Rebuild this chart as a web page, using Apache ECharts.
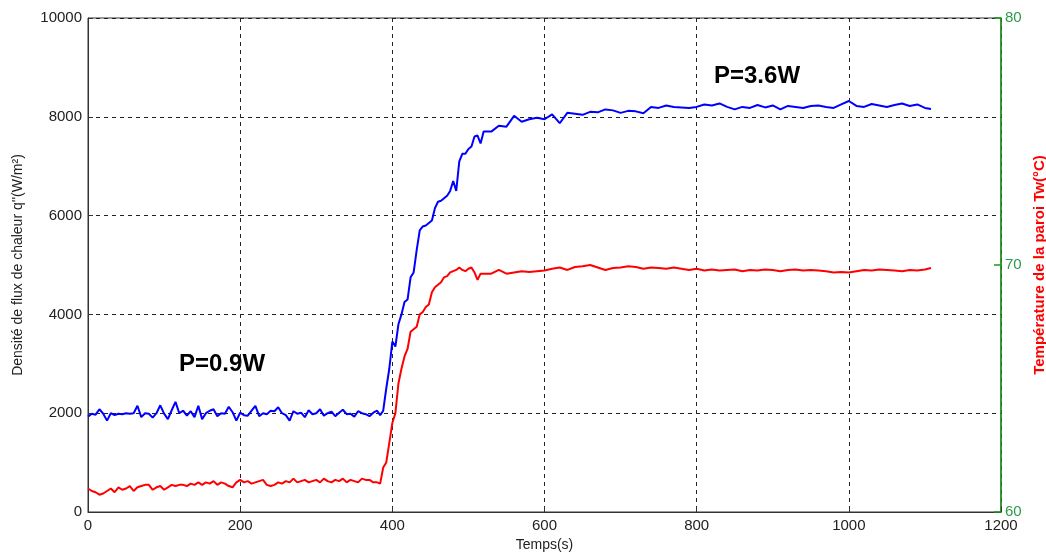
<!DOCTYPE html>
<html><head><meta charset="utf-8">
<script src="https://cdn.jsdelivr.net/npm/echarts@6/dist/echarts.min.js"></script>
<style>html,body{margin:0;padding:0;background:#fff}#c{width:1046px;height:554px}</style>
</head><body><div id="c"></div>
<script>
// time (s)
const time = [
0,5,10,15,20,25,30,35,40,45,50,55,60,65,70,75,80,85,90,95,100,105,110,115,120,125,130,135,140,145,150,155,160,165,170,175,180,185,190,195,200,205,210,215,220,225,230,235,240,245,250,255,260,265,270,275,280,285,290,295,300,305,310,315,320,325,330,335,340,345,350,355,360,365,370,375,380,
384,388,392,396,400,404,408,412,416,420,424,428,432,436,440,444,448,452,456,460,464,468,472,476,480,484,488,492,496,500,504,508,512,516,520,
530,540,550,560,570,580,590,600,610,620,630,640,650,660,670,680,690,700,710,720,730,740,750,760,770,780,790,800,810,820,830,840,850,860,870,880,890,900,910,920,930,940,950,960,970,980,990,1000,1010,1020,1030,1040,1050,1060,1070,1080,1090,1100,1108];
// heat flux density q'' (W/m²)
const heatFlux = [
1930,1990,1970,2080,1990,1850,2000,1960,1990,1980,2000,1990,2000,2150,1920,2000,1990,1910,2000,2160,1990,1880,2060,2230,2000,2050,1950,2040,1920,2150,1880,2000,2050,2080,1940,2000,1990,2130,2020,1850,2010,1960,1950,2050,2150,1940,2000,1980,2050,2040,2120,2000,1960,1850,2040,1990,2010,1920,2060,1980,2000,2080,1950,2000,2030,1940,2010,2070,1980,1990,1930,2040,2000,1980,1940,2010,2050,
1960,2050,2500,2900,3450,3350,3800,4000,4250,4300,4750,4850,5300,5700,5780,5800,5850,5900,6150,6280,6300,6350,6400,6500,6700,6500,7100,7250,7250,7350,7400,7600,7620,7460,7700,
7700,7820,7800,8020,7900,7950,7980,7950,8050,7870,8080,8060,8040,8100,8090,8150,8130,8080,8120,8110,8070,8200,8180,8230,8200,8190,8180,8200,8250,8230,8270,8200,8150,8200,8180,8240,8190,8230,8150,8220,8200,8180,8220,8230,8200,8180,8250,8320,8220,8200,8260,8230,8200,8240,8270,8220,8250,8180,8160];
// wall temperature Tw (°C)
const wallTemp = [
60.95,60.85,60.8,60.7,60.75,60.85,60.95,60.8,61.0,60.9,60.95,61.05,60.85,61.0,61.05,61.1,61.1,60.9,61.0,61.05,60.9,61.0,61.1,61.05,61.1,61.1,61.05,61.15,61.1,61.2,61.1,61.2,61.15,61.25,61.1,61.2,61.15,61.05,61.0,61.2,61.3,61.2,61.25,61.15,61.2,61.25,61.3,61.1,61.05,61.1,61.2,61.15,61.25,61.2,61.35,61.2,61.25,61.3,61.2,61.25,61.3,61.2,61.35,61.25,61.2,61.3,61.25,61.35,61.2,61.3,61.25,61.2,61.35,61.3,61.3,61.2,61.2,
61.15,61.8,62.0,62.8,63.6,64.0,65.2,65.8,66.3,66.6,67.3,67.4,67.5,68.0,68.1,68.3,68.4,68.9,69.1,69.2,69.3,69.5,69.55,69.7,69.75,69.8,69.9,69.8,69.75,69.85,69.9,69.7,69.4,69.65,69.65,
69.65,69.8,69.65,69.7,69.75,69.72,69.75,69.78,69.85,69.9,69.8,69.92,69.95,70.0,69.9,69.8,69.88,69.9,69.95,69.92,69.85,69.9,69.88,69.85,69.9,69.85,69.8,69.85,69.78,69.82,69.78,69.8,69.82,69.75,69.8,69.78,69.82,69.8,69.75,69.8,69.82,69.78,69.8,69.78,69.75,69.7,69.72,69.7,69.75,69.8,69.78,69.82,69.8,69.78,69.75,69.8,69.78,69.82,69.88];

const fluxTicks = [0,2000,4000,6000,8000,10000];
const tempTicks = [60,70,80];
const timeTicks = [0,200,400,600,800,1000,1200];

const font = 'Liberation Sans, Arial, sans-serif';
const plain = v => String(v);
const chart = echarts.init(document.getElementById('c'));
chart.setOption({
  animation:false,
  backgroundColor:'#fff',
  grid:{left:88,right:45,top:18,bottom:42,containLabel:false,outerBoundsMode:'none',
    show:true,borderColor:'#333',borderWidth:1,backgroundColor:'transparent'},
  xAxis:{type:'value',min:timeTicks[0],max:timeTicks[timeTicks.length-1],interval:200,
    name:'Temps(s)',nameLocation:'middle',nameGap:26,
    nameTextStyle:{fontFamily:font,fontSize:14,color:'#222'},
    axisLine:{lineStyle:{color:'#333',width:1}},
    axisTick:{inside:true,length:5,lineStyle:{color:'#333'}},
    axisLabel:{fontFamily:font,fontSize:15,color:'#222',margin:6,formatter:plain},
    splitLine:{show:true,lineStyle:{color:'#222',type:[4,4],width:1}}},
  yAxis:[
    {type:'value',min:fluxTicks[0],max:fluxTicks[fluxTicks.length-1],interval:2000,position:'left',
     name:"Densité de flux de chaleur q''(W/m²)",nameLocation:'middle',nameGap:63,
     nameTextStyle:{fontFamily:font,fontSize:14,color:'#222'},
     axisLine:{show:true,lineStyle:{color:'#333',width:1}},
     axisTick:{show:true,inside:true,length:5,lineStyle:{color:'#333'}},
     axisLabel:{fontFamily:font,fontSize:15,color:'#222',margin:6,formatter:plain},
     splitLine:{show:true,lineStyle:{color:'#222',type:[4,4],width:1}}},
    {type:'value',min:tempTicks[0],max:tempTicks[tempTicks.length-1],interval:10,position:'right',
     name:'Température de la paroi Tw(°C)',nameLocation:'middle',nameGap:30,
     nameTextStyle:{fontFamily:font,fontSize:15,fontWeight:'bold',color:'#ff0000'},
     axisLine:{show:true,lineStyle:{color:'#1a9a1a',width:1.5}},
     axisTick:{show:true,inside:true,length:7,lineStyle:{color:'#1a9a1a',width:1.5}},
     axisLabel:{fontFamily:font,fontSize:15,color:'#2a9a4a',margin:4,formatter:plain},
     splitLine:{show:false}}
  ],
  series:[
    {type:'line',yAxisIndex:0,symbol:'none',lineStyle:{color:'#0000ff',width:2},
     data:time.map((t,i)=>[t,heatFlux[i]])},
    {type:'line',yAxisIndex:1,symbol:'none',lineStyle:{color:'#ff0000',width:2},
     data:time.map((t,i)=>[t,wallTemp[i]])}
  ],
  graphic:[
    {type:'text',left:179,top:352,style:{text:'P=0.9W',font:'bold 24px '+font,fill:'#000'}},
    {type:'text',left:714,top:64,style:{text:'P=3.6W',font:'bold 24px '+font,fill:'#000'}}
  ]
});
</script></body></html>
